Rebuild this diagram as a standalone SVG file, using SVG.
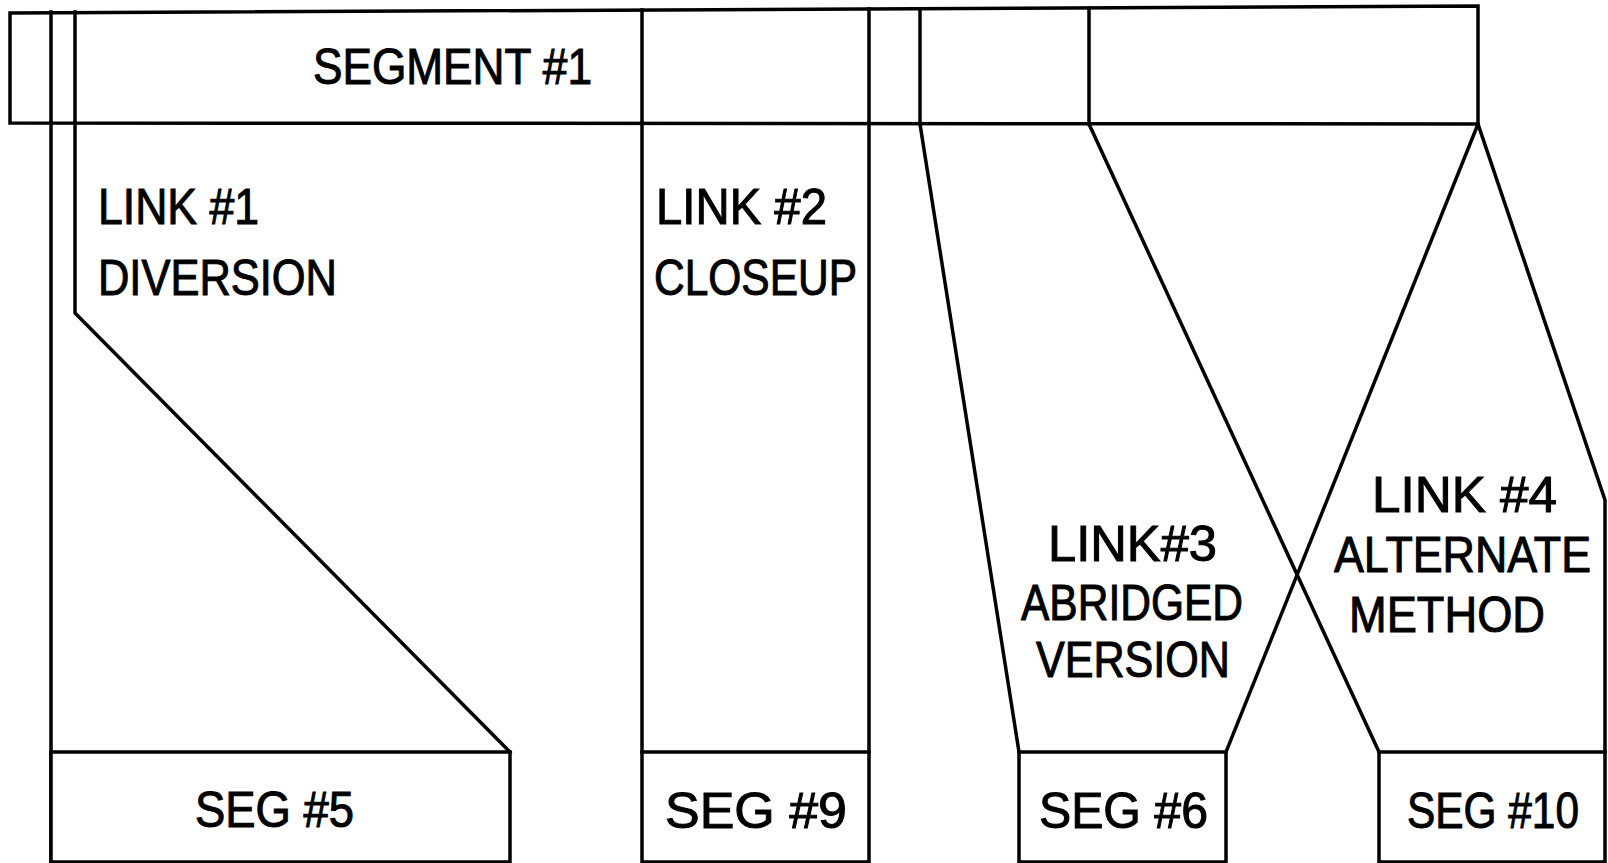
<svg xmlns="http://www.w3.org/2000/svg" width="1608" height="863" viewBox="0 0 1608 863">
<style>
.ln{fill:none;stroke:#000;stroke-width:3.5;stroke-linejoin:miter;stroke-linecap:square}
.box{fill:#fff;stroke:#000;stroke-width:3.5}
.t{font-family:"Liberation Sans",Arial,sans-serif;font-size:50px;fill:#000;stroke:#000;stroke-width:1}
</style>
<rect width="1608" height="863" fill="#fff"/>
<g id="connectors">
<polyline class="ln" points="51,123 51,862"/>
<polyline class="ln" points="75,123 75,313 510,752"/>
<polyline class="ln" points="642,123 642,752"/>
<polyline class="ln" points="869,123 869,752"/>
<polyline class="ln" points="920,124 1019,752"/>
<polyline class="ln" points="1478,124 1226,752"/>
<polyline class="ln" points="1089,124 1379,752"/>
<polyline class="ln" points="1478,124 1605,500 1605,752"/>
</g>
<g id="segment1">
<path class="ln" d="M10,13 L1478,6 L1478,124 L10,123 Z"/>
<line class="ln" x1="51" y1="12" x2="51" y2="123"/>
<line class="ln" x1="75" y1="12" x2="75" y2="123"/>
<line class="ln" x1="642" y1="10" x2="642" y2="123"/>
<line class="ln" x1="869" y1="9" x2="869" y2="123"/>
<line class="ln" x1="920" y1="9" x2="920" y2="124"/>
<line class="ln" x1="1089" y1="8" x2="1089" y2="124"/>
<text class="t" x="313" y="84" textLength="279" lengthAdjust="spacingAndGlyphs">SEGMENT #1</text>
</g>
<g id="link1">
<text class="t" x="98" y="224" textLength="161" lengthAdjust="spacingAndGlyphs">LINK #1</text>
<text class="t" x="98" y="295" textLength="239" lengthAdjust="spacingAndGlyphs">DIVERSION</text>
</g>
<g id="link2">
<text class="t" x="656" y="224" textLength="171" lengthAdjust="spacingAndGlyphs">LINK #2</text>
<text class="t" x="654" y="295" textLength="203" lengthAdjust="spacingAndGlyphs">CLOSEUP</text>
</g>
<g id="link3">
<text class="t" x="1048" y="561" textLength="169" lengthAdjust="spacingAndGlyphs">LINK#3</text>
<text class="t" x="1021" y="620" textLength="222" lengthAdjust="spacingAndGlyphs">ABRIDGED</text>
<text class="t" x="1036" y="677" textLength="194" lengthAdjust="spacingAndGlyphs">VERSION</text>
</g>
<g id="link4">
<text class="t" x="1372" y="512" textLength="185" lengthAdjust="spacingAndGlyphs">LINK #4</text>
<text class="t" x="1334" y="572" textLength="257" lengthAdjust="spacingAndGlyphs">ALTERNATE</text>
<text class="t" x="1349" y="632" textLength="196" lengthAdjust="spacingAndGlyphs">METHOD</text>
</g>
<g id="seg5">
<rect class="box" x="51" y="752" width="459" height="110"/>
<text class="t" x="195" y="827" textLength="159" lengthAdjust="spacingAndGlyphs">SEG #5</text>
</g>
<g id="seg9">
<rect class="box" x="642" y="752" width="227" height="110"/>
<text class="t" x="665" y="828" textLength="182" lengthAdjust="spacingAndGlyphs">SEG  #9</text>
</g>
<g id="seg6">
<rect class="box" x="1019" y="752" width="207" height="110"/>
<text class="t" x="1039" y="828" textLength="169" lengthAdjust="spacingAndGlyphs">SEG #6</text>
</g>
<g id="seg10">
<rect class="box" x="1379" y="752" width="226" height="110"/>
<text class="t" x="1407" y="828" textLength="172" lengthAdjust="spacingAndGlyphs">SEG #10</text>
</g>
</svg>
